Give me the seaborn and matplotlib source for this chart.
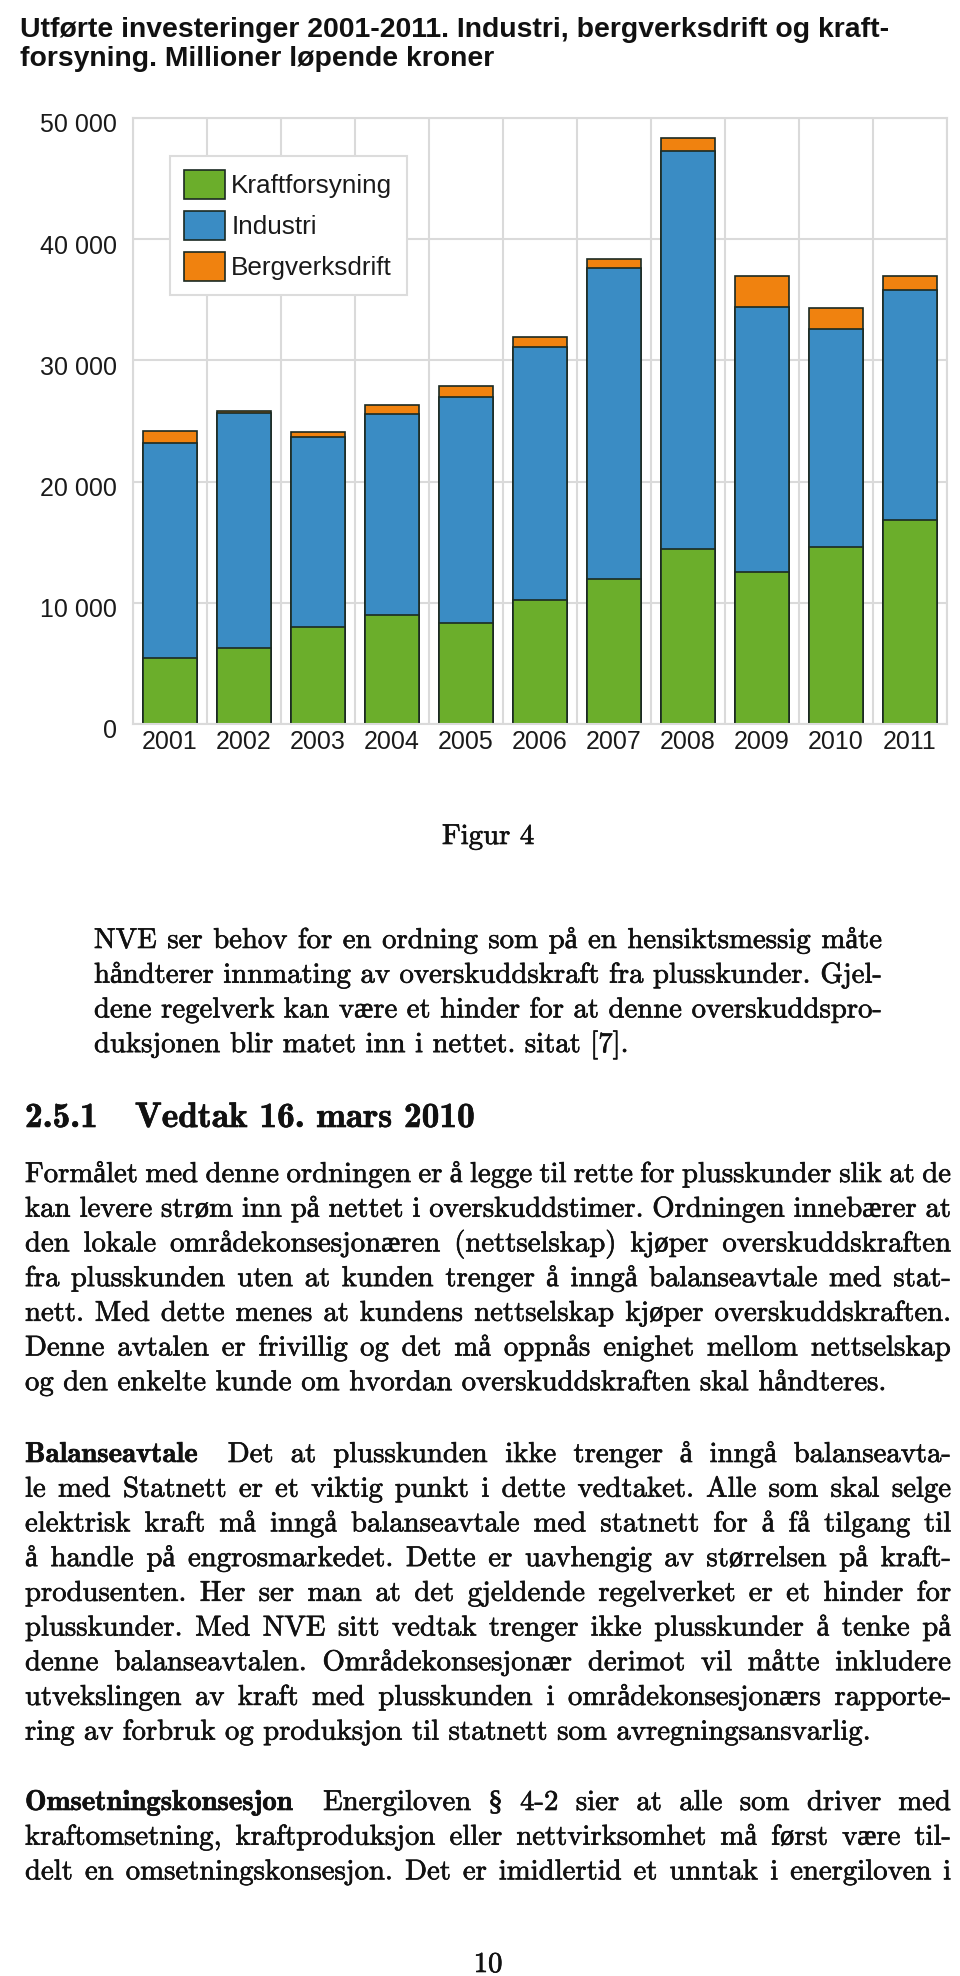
import numpy as np
import pandas as pd
import matplotlib
matplotlib.use("Agg")
import matplotlib.pyplot as plt
import matplotlib.transforms as mtransforms
import matplotlib.patheffects as pe
from matplotlib import font_manager as fm
from matplotlib.patches import Patch
from matplotlib.ticker import FuncFormatter, FixedLocator
import seaborn as sns

# ---------------- data ----------------
years = ["2001", "2002", "2003", "2004", "2005", "2006",
         "2007", "2008", "2009", "2010", "2011"]
kraftforsyning = [5450, 6280, 8020, 9000, 8350, 10250, 11980, 14460, 12560, 14630, 16860]
industri = [17770, 19420, 15700, 16600, 18590, 20820, 25620, 32810, 21820, 17930, 18920]
bergverksdrift = [980, 120, 410, 760, 910, 830, 750, 1080, 2560, 1740, 1160]
series_names = ["Kraftforsyning", "Industri", "Bergverksdrift"]
y_ticks = [0, 10000, 20000, 30000, 40000, 50000]

title_lines = ["Utførte investeringer 2001-2011. Industri, bergverksdrift og kraft-",
               "forsyning. Millioner løpende kroner"]
caption = "Figur 4"
para1_lines = [
    "NVE ser behov for en ordning som på en hensiktsmessig måte",
    "håndterer innmating av overskuddskraft fra plusskunder. Gjel-",
    "dene regelverk kan være et hinder for at denne overskuddspro-",
    "duksjonen blir matet inn i nettet. sitat [7].",
]
section_number = "2.5.1"
section_title = "Vedtak 16. mars 2010"
para2_lines = [
    "Formålet med denne ordningen er å legge til rette for plusskunder slik at de",
    "kan levere strøm inn på nettet i overskuddstimer. Ordningen innebærer at",
    "den lokale områdekonsesjonæren (nettselskap) kjøper overskuddskraften",
    "fra plusskunden uten at kunden trenger å inngå balanseavtale med stat-",
    "nett. Med dette menes at kundens nettselskap kjøper overskuddskraften.",
    "Denne avtalen er frivillig og det må oppnås enighet mellom nettselskap",
    "og den enkelte kunde om hvordan overskuddskraften skal håndteres.",
]
para3_heading = "Balanseavtale"
para3_lines = [
    "Det at plusskunden ikke trenger å inngå balanseavta-",
    "le med Statnett er et viktig punkt i dette vedtaket. Alle som skal selge",
    "elektrisk kraft må inngå balanseavtale med statnett for å få tilgang til",
    "å handle på engrosmarkedet. Dette er uavhengig av størrelsen på kraft-",
    "produsenten. Her ser man at det gjeldende regelverket er et hinder for",
    "plusskunder. Med NVE sitt vedtak trenger ikke plusskunder å tenke på",
    "denne balanseavtalen. Områdekonsesjonær derimot vil måtte inkludere",
    "utvekslingen av kraft med plusskunden i områdekonsesjonærs rapporte-",
    "ring av forbruk og produksjon til statnett som avregningsansvarlig.",
]
para4_heading = "Omsetningskonsesjon"
para4_lines = [
    "Energiloven § 4-2 sier at alle som driver med",
    "kraftomsetning, kraftproduksjon eller nettvirksomhet må først være til-",
    "delt en omsetningskonsesjon. Det er imidlertid et unntak i energiloven i",
]
page_number = "10"

# ---------------- style ----------------
W, H = 960, 1976
DPI = 100
GREEN, BLUE, ORANGE = "#6BAE2B", "#3A8CC4", "#F0820F"
EDGE = "#1B2A22"
GRID = "#DADADA"
TXT = "#111111"
SANS = ["Liberation Sans", "DejaVu Sans"]
R = ["cmr10", "Liberation Serif", "DejaVu Serif"]
B = ["cmb10", "Liberation Serif", "DejaVu Serif"]
SERIF_ONLY = ["Liberation Serif", "DejaVu Serif"]
INK = [pe.withStroke(linewidth=0.45, foreground=TXT)]

plt.rcParams["axes.unicode_minus"] = False
fig = plt.figure(figsize=(W / DPI, H / DPI), dpi=DPI)
fig.patch.set_facecolor("white")
PIX = mtransforms.IdentityTransform()
renderer = fig.canvas.get_renderer()

# ---------------- chart ----------------
ax = fig.add_axes([133 / W, 1 - 724 / H, 814 / W, 606 / H])
df = pd.DataFrame({"year": years,
                   "Kraftforsyning": kraftforsyning,
                   "Industri": industri,
                   "Bergverksdrift": bergverksdrift})
df["lvl1"] = df["Kraftforsyning"]
df["lvl2"] = df["lvl1"] + df["Industri"]
df["lvl3"] = df["lvl2"] + df["Bergverksdrift"]

for col, colr in [("lvl3", ORANGE), ("lvl2", BLUE), ("lvl1", GREEN)]:
    sns.barplot(data=df, x="year", y=col, order=years, color=colr,
                saturation=1, edgecolor=EDGE, linewidth=1.2, width=0.72,
                errorbar=None, ax=ax)

ax.set_xlim(-0.5, len(years) - 0.5)
ax.set_ylim(0, 50000)
ax.set_xlabel("")
ax.set_ylabel("")
ax.yaxis.set_major_locator(FixedLocator(y_ticks))
ax.yaxis.set_major_formatter(FuncFormatter(lambda v, p: f"{int(v):,}".replace(",", " ")))
ax.set_xticks(np.arange(-0.5, len(years), 1.0), minor=True)
ax.set_axisbelow(True)
ax.grid(False)
ax.xaxis.grid(True, which="minor", color=GRID, linewidth=1.5)
ax.yaxis.grid(True, which="major", color=GRID, linewidth=1.5)
ax.tick_params(axis="both", which="both", length=0)
ax.tick_params(axis="x", pad=4)
ax.tick_params(axis="y", pad=11.5)
for lab in ax.get_xticklabels() + ax.get_yticklabels():
    lab.set_family(SANS)
    lab.set_fontsize(18)
    lab.set_color("#1A1A1A")
for lab in ax.get_yticklabels():
    lab.set_transform(lab.get_transform() +
                      mtransforms.ScaledTranslation(0, -5 / DPI, fig.dpi_scale_trans))
for sp in ax.spines.values():
    sp.set_color(GRID)
    sp.set_linewidth(1.5)

handles = [Patch(facecolor=c, edgecolor=EDGE, linewidth=1.2) for c in (GREEN, BLUE, ORANGE)]
leg = ax.legend(handles, series_names, loc="upper left",
                bbox_to_anchor=(170 / W, 1 - 156 / H), bbox_transform=fig.transFigure,
                frameon=True, fancybox=False, framealpha=1, edgecolor="#DCDCDC",
                prop=fm.FontProperties(family=SANS, size=18.8),
                handlelength=1.55, handleheight=1.3, labelspacing=0.48,
                handletextpad=0.25, borderpad=0.55, borderaxespad=0)
leg.get_frame().set_linewidth(1.5)
for t in leg.get_texts():
    t.set_color("#1A1A1A")

# ---------------- title (fit to width) ----------------
tt = fig.text(20, H - 37, title_lines[0], transform=PIX, fontsize=20,
              family=SANS, fontweight="bold", color="#111111", va="baseline")
w0 = tt.get_window_extent(renderer).width
tsize = 20 * (868 / w0)
tt.set_fontsize(tsize)
fig.text(20, H - 66, title_lines[1], transform=PIX, fontsize=tsize,
         family=SANS, fontweight="bold", color="#111111", va="baseline")

# ---------------- body text ----------------
BODY_PT = 20.7
PX_PER_PT = DPI / 72.0
SPACE = 0.333 * BODY_PT * PX_PER_PT


def put_line(text, y_center, x0, x1, justify=True, heading=None, head_gap=31,
             size=BODY_PT):
    yb = H - (y_center + 10)
    tokens = []
    if heading is not None:
        tokens.append((heading, True))
    tokens += [(w, False) for w in text.split(" ")]
    objs = []
    for txt, bold in tokens:
        fam = B if bold else R
        if "§" in txt:
            fam = SERIF_ONLY
        t = fig.text(0, yb, txt, transform=PIX, fontsize=size, family=fam,
                     fontweight="bold" if bold else "normal",
                     color=TXT, va="baseline", ha="left", path_effects=INK)
        objs.append(t)
    widths = [t.get_window_extent(renderer).width for t in objs]
    gaps = []
    for i in range(len(objs) - 1):
        gaps.append(head_gap if (heading is not None and i == 0) else None)
    n_flex = sum(g is None for g in gaps)
    fixed = sum(g for g in gaps if g is not None)
    if justify and n_flex > 0:
        g = (x1 - x0 - sum(widths) - fixed) / n_flex
    else:
        g = SPACE
    x = x0
    for i, t in enumerate(objs):
        t.set_x(x)
        x += widths[i]
        if i < len(gaps):
            x += gaps[i] if gaps[i] is not None else g


LEFT, RIGHT = 25, 951
QL, QR = 94, 882
LS = 34.7

fig.text((LEFT + RIGHT) / 2, H - 844, caption, transform=PIX, fontsize=BODY_PT,
         family=R, color=TXT, ha="center", va="baseline", path_effects=INK)

for i, ln in enumerate(para1_lines):
    put_line(ln, 938 + LS * i, QL, QR, justify=(i < len(para1_lines) - 1))

fig.text(LEFT, H - 1127, section_number, transform=PIX, fontsize=25.5,
         family=B, fontweight="bold", color=TXT, va="baseline", path_effects=INK)
fig.text(135, H - 1127, section_title, transform=PIX, fontsize=25.5,
         family=B, fontweight="bold", color=TXT, va="baseline", path_effects=INK)

for i, ln in enumerate(para2_lines):
    put_line(ln, 1172 + LS * i, LEFT, RIGHT, justify=(i < len(para2_lines) - 1))

for i, ln in enumerate(para3_lines):
    put_line(ln, 1452 + LS * i, LEFT, RIGHT,
             justify=(i < len(para3_lines) - 1),
             heading=para3_heading if i == 0 else None)

for i, ln in enumerate(para4_lines):
    put_line(ln, 1800 + LS * i, LEFT, RIGHT, justify=True,
             heading=para4_heading if i == 0 else None)

fig.text((LEFT + RIGHT) / 2, H - 1972, page_number, transform=PIX, fontsize=BODY_PT,
         family=R, color=TXT, ha="center", va="baseline", path_effects=INK)

fig.savefig("out.png", dpi=DPI, facecolor="white")
